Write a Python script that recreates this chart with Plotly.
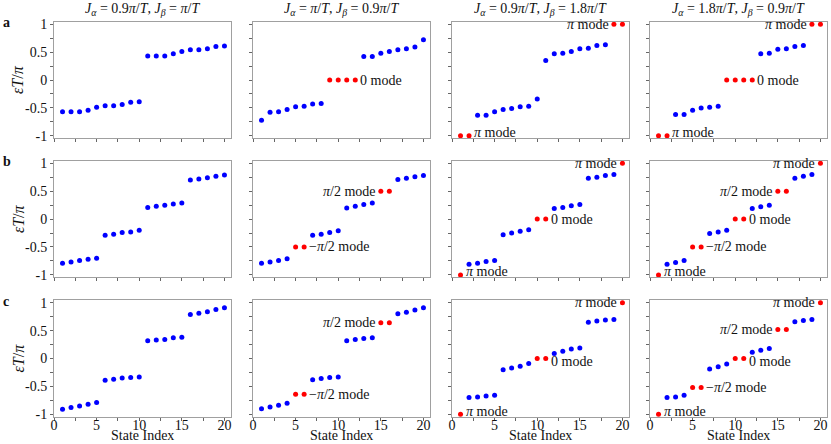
import plotly.graph_objects as go

state_index = list(range(1, 21))

# quasi-energies (epsilon T / pi) for each panel, row a/b/c, column 1..4
a1 = [-0.57, -0.57, -0.57, -0.54, -0.49, -0.46, -0.46, -0.44, -0.40, -0.39,
      0.43, 0.43, 0.43, 0.47, 0.51, 0.54, 0.54, 0.56, 0.60, 0.61]
a2 = [-0.72, -0.58, -0.57, -0.53, -0.48, -0.47, -0.43, -0.42, 0, 0,
      0, 0, 0.42, 0.42, 0.48, 0.51, 0.54, 0.56, 0.59, 0.72]
a3 = [-1, -1, -0.63, -0.63, -0.57, -0.53, -0.51, -0.48, -0.47, -0.34,
      0.35, 0.47, 0.48, 0.51, 0.56, 0.57, 0.62, 0.63, 1, 1]
a4 = [-1, -1, -0.62, -0.62, -0.54, -0.50, -0.49, -0.47, 0, 0,
      0, 0, 0.47, 0.48, 0.55, 0.56, 0.60, 0.62, 1, 1]
b1 = [-0.79, -0.77, -0.74, -0.72, -0.70, -0.29, -0.27, -0.24, -0.23, -0.20,
      0.21, 0.23, 0.25, 0.27, 0.29, 0.70, 0.72, 0.74, 0.77, 0.79]
b2 = [-0.79, -0.77, -0.74, -0.71, -0.5, -0.5, -0.29, -0.27, -0.24, -0.21,
      0.20, 0.23, 0.26, 0.29, 0.5, 0.5, 0.71, 0.73, 0.76, 0.78]
b3 = [-1, -0.81, -0.79, -0.76, -0.74, -0.28, -0.25, -0.22, -0.19, 0,
      0, 0.19, 0.21, 0.24, 0.26, 0.73, 0.75, 0.78, 0.80, 1]
b4 = [-1, -0.81, -0.78, -0.74, -0.5, -0.5, -0.26, -0.23, -0.20, 0,
      0, 0.19, 0.22, 0.25, 0.5, 0.5, 0.73, 0.77, 0.80, 1]
c1 = [-0.91, -0.88, -0.85, -0.82, -0.79, -0.39, -0.37, -0.35, -0.34, -0.33,
      0.32, 0.33, 0.34, 0.37, 0.38, 0.79, 0.81, 0.84, 0.88, 0.91]
c2 = [-0.90, -0.87, -0.84, -0.80, -0.64, -0.64, -0.38, -0.36, -0.34, -0.33,
      0.32, 0.34, 0.36, 0.37, 0.64, 0.64, 0.80, 0.83, 0.87, 0.91]
c3 = [-1, -0.70, -0.69, -0.67, -0.66, -0.20, -0.17, -0.14, -0.09, 0,
      0, 0.09, 0.13, 0.17, 0.19, 0.65, 0.67, 0.69, 0.70, 1]
c4 = [-1, -0.70, -0.69, -0.66, -0.52, -0.52, -0.19, -0.15, -0.10, 0,
      0, 0.11, 0.15, 0.18, 0.52, 0.52, 0.66, 0.68, 0.70, 1]

# indices (1-based) of edge-mode states drawn in red
red_a1 = []
red_a2 = [9, 10, 11, 12]
red_a3 = [1, 2, 19, 20]
red_a4 = [1, 2, 9, 10, 11, 12, 19, 20]
red_b1 = []
red_b2 = [5, 6, 15, 16]
red_b3 = [1, 10, 11, 20]
red_b4 = [1, 5, 6, 10, 11, 15, 16, 20]
red_c1 = []
red_c2 = [5, 6, 15, 16]
red_c3 = [1, 10, 11, 20]
red_c4 = [1, 5, 6, 10, 11, 15, 16, 20]

# mode labels: (text, anchor state index, side) side 'r' = text right of point
PI = "<i>π</i> mode"
ZERO = "0 mode"
HP = "<i>π</i>/2 mode"
MHP = "−<i>π</i>/2 mode"
lab_a1 = []
lab_a2 = [(ZERO, 12, 'r')]
lab_a3 = [(PI, 2, 'r'), (PI, 19, 'l')]
lab_a4 = [(PI, 2, 'r'), (ZERO, 12, 'r'), (PI, 19, 'l')]
lab_b1 = []
lab_b2 = [(MHP, 6, 'r'), (HP, 15, 'l')]
lab_b3 = [(PI, 1, 'r'), (ZERO, 11, 'r'), (PI, 20, 'l')]
lab_b4 = [(PI, 1, 'r'), (MHP, 6, 'r'), (ZERO, 11, 'r'), (HP, 15, 'l'), (PI, 20, 'l')]
lab_c1 = []
lab_c2 = [(MHP, 6, 'r'), (HP, 15, 'l')]
lab_c3 = [(PI, 1, 'r'), (ZERO, 11, 'r'), (PI, 20, 'l')]
lab_c4 = [(PI, 1, 'r'), (MHP, 6, 'r'), (ZERO, 11, 'r'), (HP, 15, 'l'), (PI, 20, 'l')]

col_titles = [
    "<i>J</i><sub><i>α</i></sub> = 0.9<i>π</i>/<i>T</i>, <i>J</i><sub><i>β</i></sub> = <i>π</i>/<i>T</i>",
    "<i>J</i><sub><i>α</i></sub> = <i>π</i>/<i>T</i>, <i>J</i><sub><i>β</i></sub> = 0.9<i>π</i>/<i>T</i>",
    "<i>J</i><sub><i>α</i></sub> = 0.9<i>π</i>/<i>T</i>, <i>J</i><sub><i>β</i></sub> = 1.8<i>π</i>/<i>T</i>",
    "<i>J</i><sub><i>α</i></sub> = 1.8<i>π</i>/<i>T</i>, <i>J</i><sub><i>β</i></sub> = 0.9<i>π</i>/<i>T</i>",
]
row_labels = ["a", "b", "c"]
y_tick_vals = [-1, -0.5, 0, 0.5, 1]
y_tick_text = ["-1", "-0.5", "0", "0.5", "1"]
x_tick_vals = [0, 5, 10, 15, 20]
x_tick_text = ["0", "5", "10", "15", "20"]

panels = [[a1, a2, a3, a4], [b1, b2, b3, b4], [c1, c2, c3, c4]]
reds = [[red_a1, red_a2, red_a3, red_a4], [red_b1, red_b2, red_b3, red_b4],
        [red_c1, red_c2, red_c3, red_c4]]
labels = [[lab_a1, lab_a2, lab_a3, lab_a4], [lab_b1, lab_b2, lab_b3, lab_b4],
          [lab_c1, lab_c2, lab_c3, lab_c4]]

W, H = 831, 444
col_left = [54, 253, 452, 650]
col_w = 177
row_top = [21.7, 160.8, 300.2]
row_h = 116.6
FONT = "Liberation Serif"
BLUE = "#0000ff"
RED = "#ff0000"

fig = go.Figure()
annotations = []
layout = {}
for r in range(3):
    for c in range(4):
        n = r * 4 + c + 1
        xa = "x" if n == 1 else f"x{n}"
        ya = "y" if n == 1 else f"y{n}"
        vals = panels[r][c]
        colors = [RED if (i + 1) in reds[r][c] else BLUE for i in range(20)]
        fig.add_trace(go.Scatter(x=state_index, y=vals, mode="markers",
                                 marker=dict(color=colors, size=5, line=dict(width=0)),
                                 xaxis=xa, yaxis=ya, showlegend=False, cliponaxis=False,
                                 hoverinfo="skip"))
        x0 = col_left[c] / W
        x1 = (col_left[c] + col_w) / W
        y1 = 1 - row_top[r] / H
        y0 = 1 - (row_top[r] + row_h) / H
        common = dict(showline=True, mirror=True, linecolor="#a0a0a0", linewidth=1,
                      showgrid=False, zeroline=False, ticks="outside", ticklen=3,
                      tickcolor="#666", tickwidth=1, automargin=False,
                      tickfont=dict(family=FONT, size=14, color="#111"))
        layout["xaxis" if n == 1 else f"xaxis{n}"] = dict(
            common, domain=[x0, x1], range=[0, 20.77], anchor=ya,
            tickmode="array", tickvals=x_tick_vals, ticktext=x_tick_text,
            showticklabels=(r == 2), ticklabelstandoff=-8,
            minor=dict(dtick=2.5, tick0=0, ticks="outside", ticklen=3, tickcolor="#666"))
        layout["yaxis" if n == 1 else f"yaxis{n}"] = dict(
            common, domain=[y0, y1], range=[-1.045, 1.045], anchor=xa,
            tickmode="array", tickvals=y_tick_vals, ticktext=y_tick_text,
            showticklabels=(c == 0),
            minor=dict(dtick=0.25, tick0=0, ticks="outside", ticklen=3, tickcolor="#666"))
        for text, idx, side in labels[r][c]:
            yv = vals[idx - 1]
            ysh = 0
            if text == ZERO and r == 2:
                ysh = -3
            if yv <= -0.99:
                ysh = 3
            annotations.append(dict(
                x=idx, y=yv, xref=xa, yref=ya, text=text, showarrow=False,
                xanchor="left" if side == 'r' else "right",
                xshift=3 if side == 'r' else -3, yshift=ysh,
                font=dict(family=FONT, size=14, color="#111")))
        if r == 2:
            annotations.append(dict(
                x=(x0 + x1) / 2, y=1 - 443.5 / H, xref="paper", yref="paper",
                text="State Index", showarrow=False, xanchor="center", yanchor="bottom",
                borderpad=0,
                font=dict(family=FONT, size=14, color="#111")))
    annotations.append(dict(
        x=18 / W, y=1 - (row_top[r] + row_h / 2) / H, xref="paper", yref="paper",
        text="<i>εT</i>/<i>π</i>", textangle=-90, showarrow=False,
        xanchor="center", yanchor="middle",
        font=dict(family=FONT, size=16, color="#111")))
    annotations.append(dict(
        x=1 / W, y=1 - (row_top[r] + 1) / H, xref="paper", yref="paper",
        text=f"<b>{row_labels[r]}</b>", showarrow=False, xanchor="left", yanchor="middle",
        font=dict(family=FONT, size=14, color="#111")))

for c in range(4):
    annotations.append(dict(
        x=(col_left[c] + col_w / 2) / W, y=1 - 9 / H, xref="paper", yref="paper",
        text=col_titles[c], showarrow=False, xanchor="center", yanchor="middle",
        font=dict(family=FONT, size=14, color="#111")))

fig.update_layout(**layout)
fig.update_layout(width=W, height=H, margin=dict(l=0, r=0, t=0, b=0),
                  plot_bgcolor="white", paper_bgcolor="white",
                  annotations=annotations, showlegend=False, hovermode=False)
fig.write_html("out.html", config={"displayModeBar": False},
               post_script="document.body.style.margin='0';document.body.style.overflow='hidden';")
